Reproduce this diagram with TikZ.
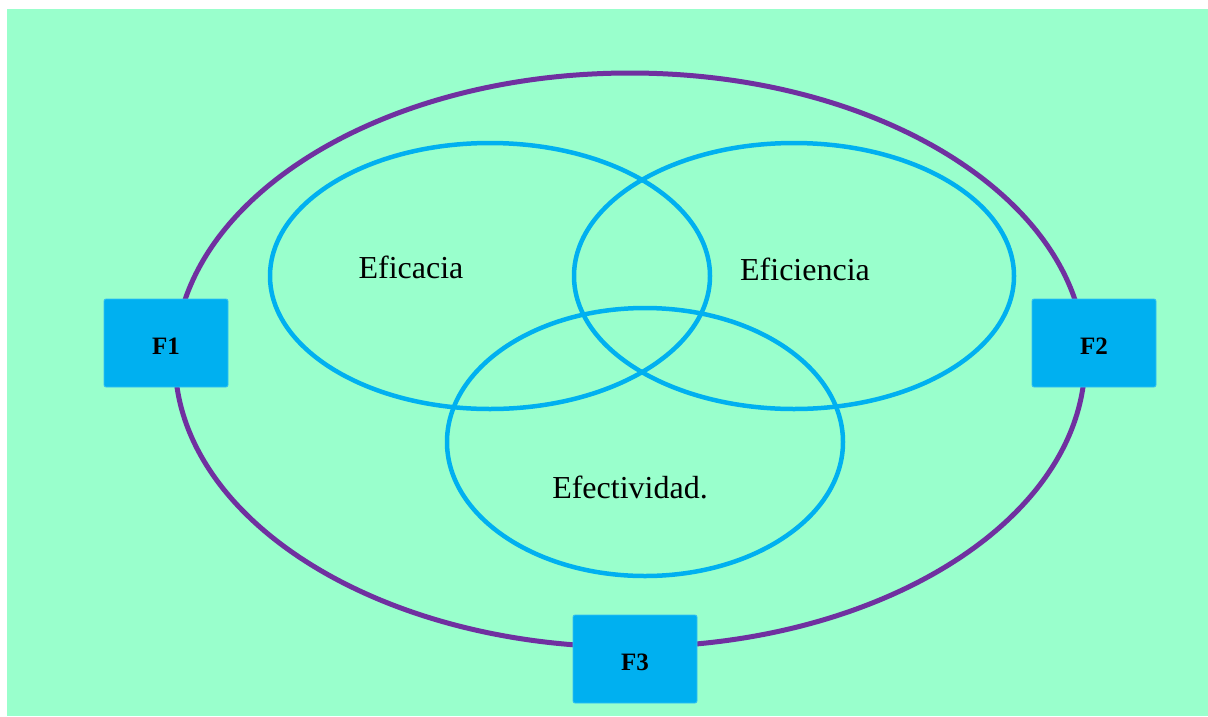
\documentclass[tikz,border=0pt]{standalone}
\usepackage{fontspec}
\setmainfont{Liberation Serif}
\usetikzlibrary{shapes.geometric}
\definecolor{mint}{HTML}{99FFCC}
\definecolor{ringpurple}{HTML}{7030A0}
\definecolor{skyblue}{HTML}{00B0F0}
\tikzset{
  ring/.style={ellipse, draw=ringpurple, line width=5pt, inner sep=0pt},
  circ/.style={ellipse, draw=skyblue, line width=4.5pt, inner sep=0pt},
  lbl/.style={font=\fontsize{32}{36}\selectfont, inner sep=0pt},
  fbox/.style={fill=skyblue, draw=skyblue!80!white, line width=0.8pt, rounded corners=2pt,
    minimum width=124pt, minimum height=88pt, inner sep=0pt,
    text height=23pt, text depth=0pt,
    font=\bfseries\fontsize{25}{28}\selectfont}
}
\begin{document}
\begin{tikzpicture}[x=1pt,y=-1pt]
  \useasboundingbox (0,0) rectangle (1208,716);
  \fill[white] (0,0) rectangle (1208,716);
  \fill[mint] (7,9) rectangle (1208,716);
  % outer ring
  \node[ring, minimum width=910pt, minimum height=574pt] (outer) at (630,360) {};
  % three overlapping ellipses
  \node[circ, minimum width=440pt, minimum height=266pt] (eficacia) at (490,276) {};
  \node[circ, minimum width=440pt, minimum height=266pt] (eficiencia) at (794,276) {};
  \node[circ, minimum width=396pt, minimum height=268pt] (efectividad) at (645,442) {};
  % labels
  \node[lbl] (t1) at (411,267) {Eficacia};
  \node[lbl] (t2) at (805,269) {Eficiencia};
  \node[lbl] (t3) at (630,487) {Efectividad.};
  % boxes on the ring
  \node[fbox] (f1) at (166,343) {F1};
  \node[fbox] (f2) at (1094,343) {F2};
  \node[fbox] (f3) at (635,659) {F3};
\end{tikzpicture}
\end{document}
